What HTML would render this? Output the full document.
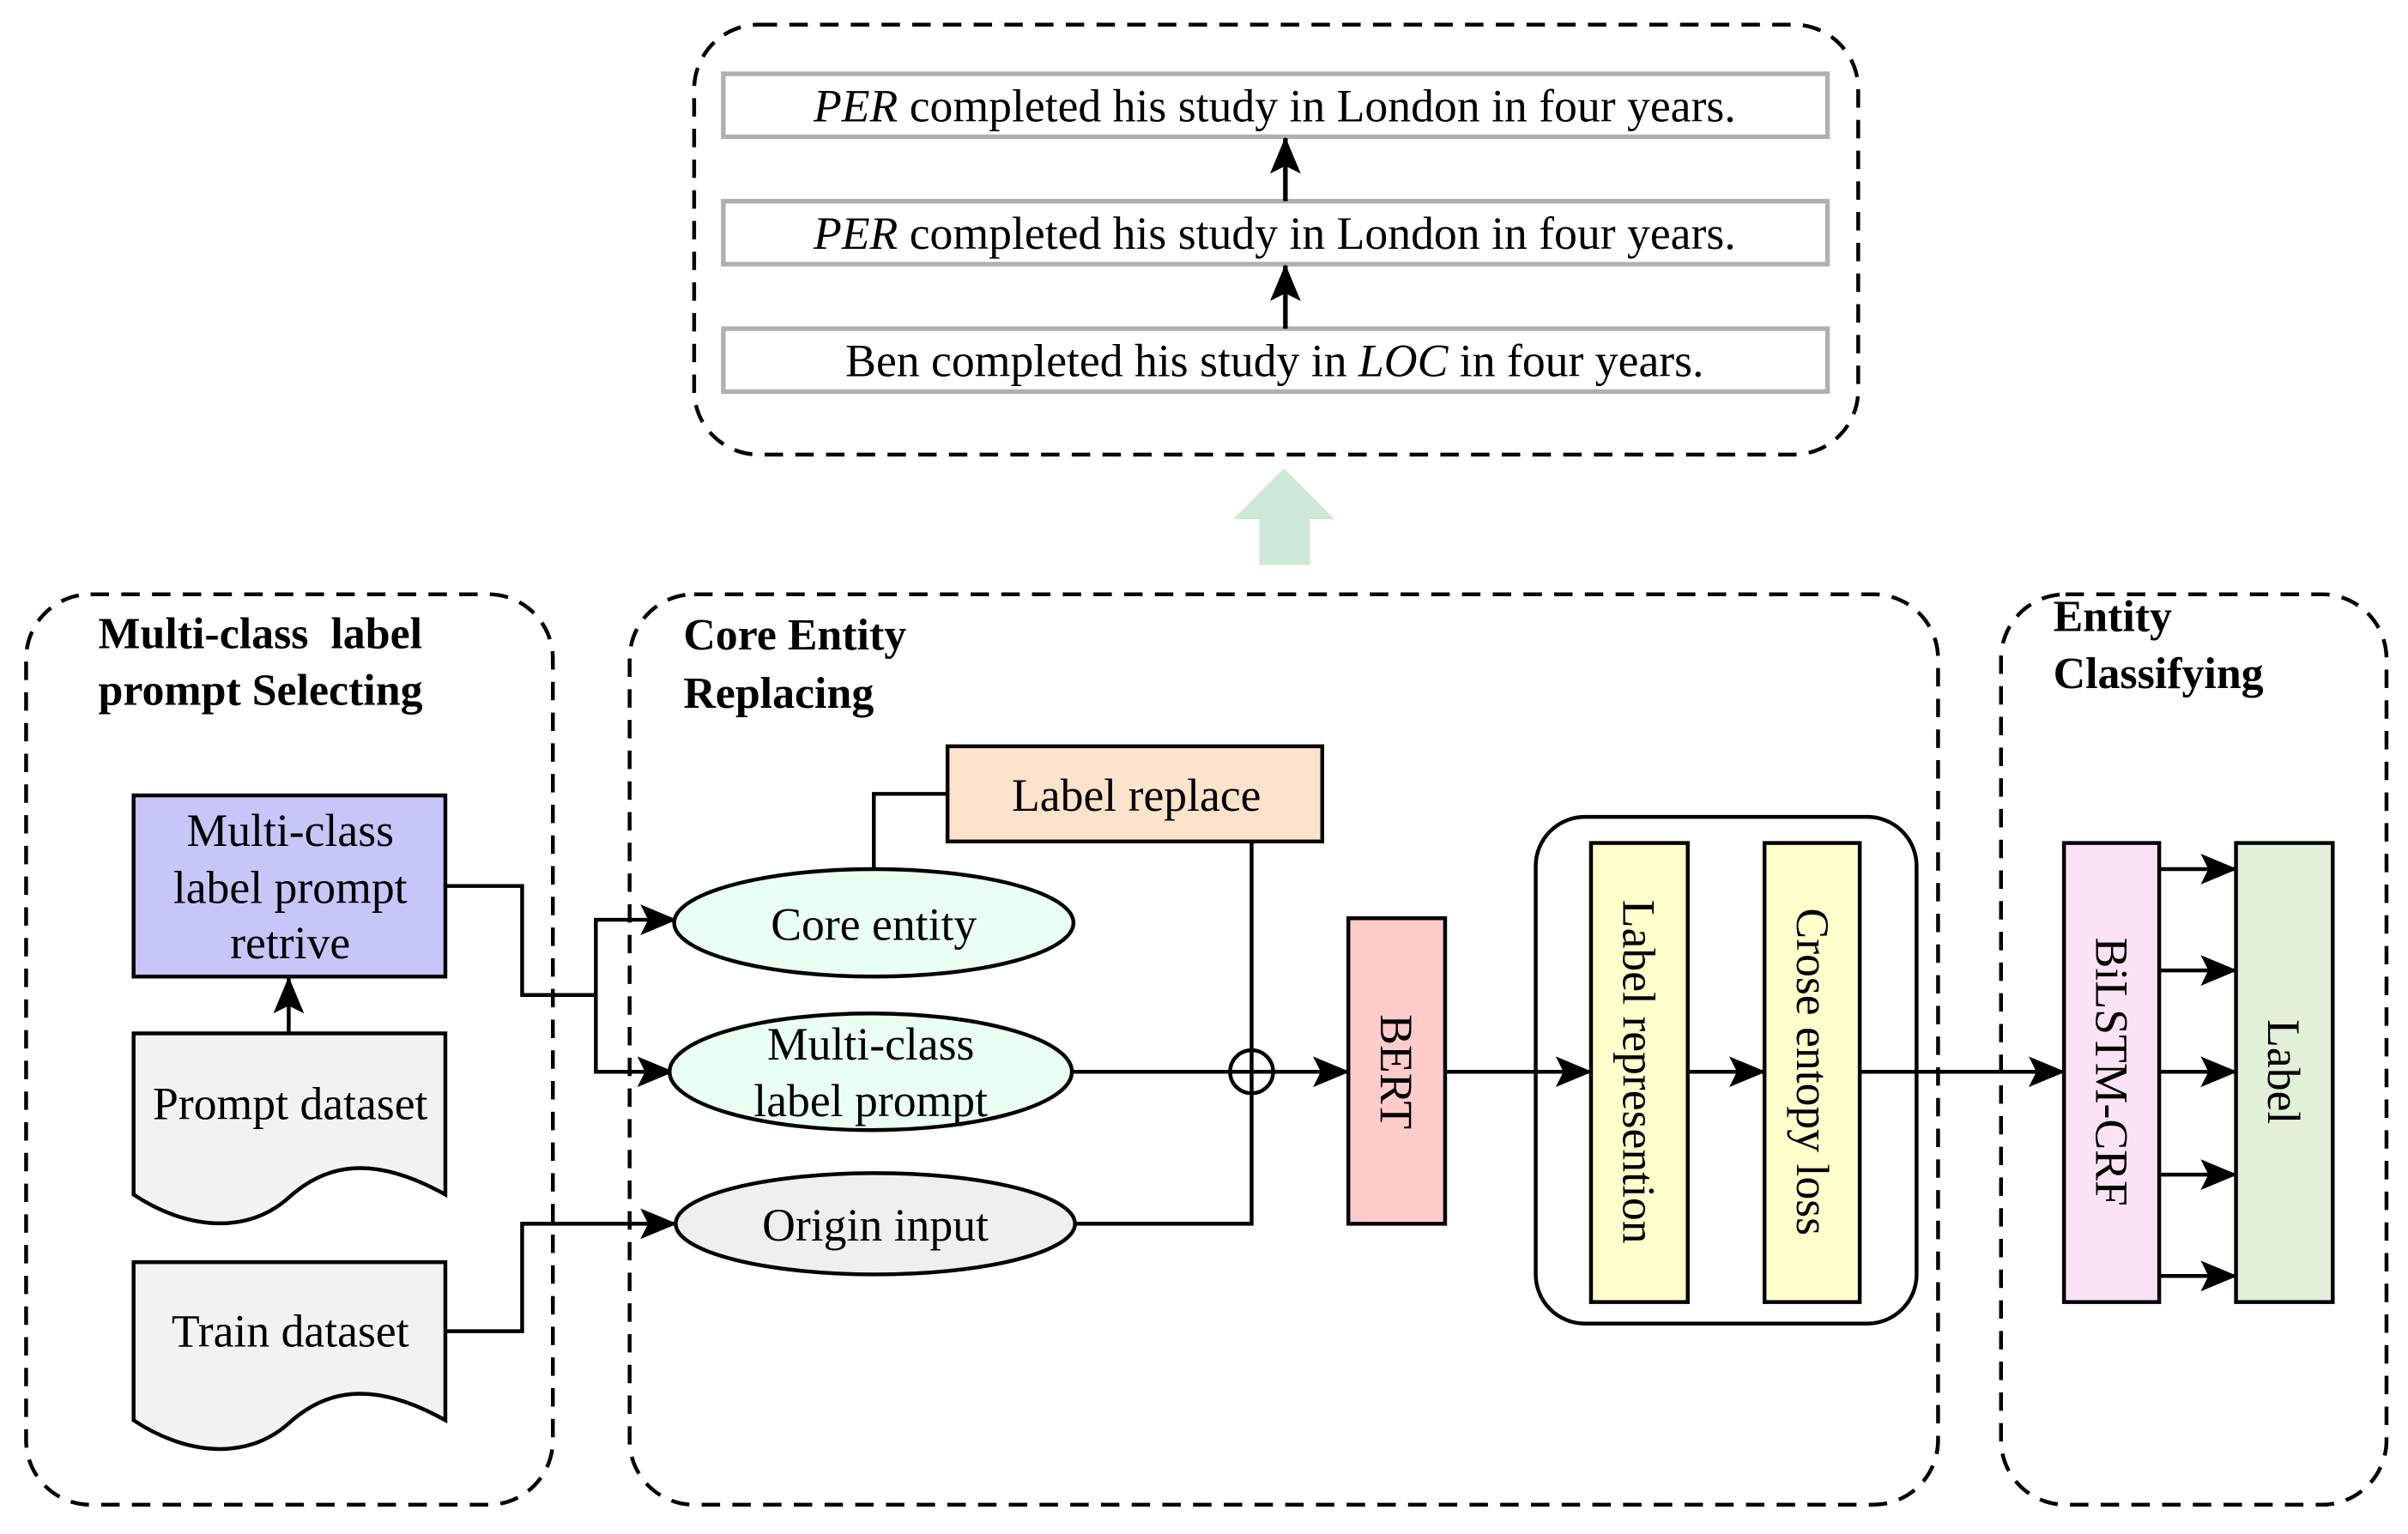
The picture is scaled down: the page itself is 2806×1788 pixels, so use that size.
<!DOCTYPE html>
<html><head><meta charset="utf-8"><style>html,body{margin:0;padding:0;background:#fff}svg{display:block}</style></head>
<body>
<svg width="2806" height="1788" viewBox="0 0 1568 999" xmlns="http://www.w3.org/2000/svg" font-family="'Liberation Serif', serif" font-size="30">
<defs>
<marker id="ahb" markerWidth="24" markerHeight="22" refX="23" refY="11" orient="auto" markerUnits="userSpaceOnUse" viewBox="0 0 24 22">
<path d="M0,1 L24,11 L0,21 L5,11 z" fill="#000"/></marker>
</defs>
<g fill="none" stroke="#000" stroke-width="2.5" stroke-dasharray="12,8">
<rect x="452" y="16" width="758" height="280" rx="42"/>
<rect x="17" y="387" width="343" height="593" rx="42"/>
<rect x="410" y="387" width="852" height="593" rx="42"/>
<rect x="1303" y="387" width="251" height="593" rx="42"/>
</g>
<g fill="#fff" stroke="#b0b0b0" stroke-width="3">
<rect x="471" y="48" width="719" height="41"/>
<rect x="471" y="131" width="719" height="41"/>
<rect x="471" y="214" width="719" height="41"/>
</g>
<g text-anchor="middle">
<text x="830" y="79"><tspan font-style="italic">PER</tspan> completed his study in London in four years.</text>
<text x="830" y="162"><tspan font-style="italic">PER</tspan> completed his study in London in four years.</text>
<text x="830" y="245">Ben completed his study in <tspan font-style="italic">LOC</tspan> in four years.</text>
</g>
<g stroke="#000" stroke-width="3" fill="none">
<line x1="837" y1="131" x2="837" y2="90" marker-end="url(#ahb)"/>
<line x1="837" y1="214" x2="837" y2="173" marker-end="url(#ahb)"/>
</g>
<path d="M820,368 L853,368 L853,338 L869,338 L836,305 L803,338 L820,338 z" fill="#cde8d8"/>
<g font-weight="bold" font-size="29">
<text x="64" y="422" xml:space="preserve">Multi-class  label</text>
<text x="64" y="459">prompt Selecting</text>
<text x="445" y="423">Core Entity</text>
<text x="445" y="461">Replacing</text>
<text x="1337" y="411">Entity</text>
<text x="1337" y="448">Classifying</text>
</g>
<rect x="87" y="518" width="203" height="118" fill="#c6c6f9" stroke="#000" stroke-width="2.5"/>
<g text-anchor="middle">
<text x="189" y="551">Multi-class</text>
<text x="189" y="588">label prompt</text>
<text x="189" y="624">retrive</text>
</g>
<path d="M87,673 L290,673 L290,778 C240,750 210,760 188,780 C160,805 120,800 87,778 z" fill="#f2f2f2" stroke="#000" stroke-width="2.5"/>
<text x="189" y="729" text-anchor="middle">Prompt dataset</text>
<path d="M87,822 L290,822 L290,925 C240,897 210,907 188,927 C160,952 120,947 87,925 z" fill="#f2f2f2" stroke="#000" stroke-width="2.5"/>
<text x="189" y="877" text-anchor="middle">Train dataset</text>
<g stroke="#000" stroke-width="2.5" fill="none">
<line x1="188" y1="673" x2="188" y2="637" marker-end="url(#ahb)"/>
<polyline points="290,577 340,577 340,648 388,648"/>
<polyline points="388,648 388,599 440,599" marker-end="url(#ahb)"/>
<polyline points="388,648 388,698 438,698" marker-end="url(#ahb)"/>
<polyline points="290,867 340,867 340,797 440,797" marker-end="url(#ahb)"/>
<polyline points="569,566 569,517 617,517"/>
<polyline points="815,548 815,797 700,797"/>
<line x1="698" y1="698" x2="878" y2="698" marker-end="url(#ahb)"/>
<circle cx="815" cy="698" r="14"/>
<line x1="941" y1="698" x2="1036" y2="698" marker-end="url(#ahb)"/>
<line x1="1099" y1="698" x2="1149" y2="698" marker-end="url(#ahb)"/>
<line x1="1211" y1="698" x2="1344" y2="698" marker-end="url(#ahb)"/>
<line x1="1406" y1="566" x2="1456" y2="566" marker-end="url(#ahb)"/>
<line x1="1406" y1="632" x2="1456" y2="632" marker-end="url(#ahb)"/>
<line x1="1406" y1="698" x2="1456" y2="698" marker-end="url(#ahb)"/>
<line x1="1406" y1="765" x2="1456" y2="765" marker-end="url(#ahb)"/>
<line x1="1406" y1="831" x2="1456" y2="831" marker-end="url(#ahb)"/>
<rect x="1000" y="532" width="248" height="330" rx="32"/>
</g>
<g stroke="#000" stroke-width="2.5">
<ellipse cx="569" cy="601" rx="130" ry="35" fill="#eafff4"/>
<ellipse cx="567" cy="698" rx="131" ry="38" fill="#eafff4"/>
<ellipse cx="570" cy="797" rx="130" ry="33" fill="#efefef"/>
<rect x="617" y="486" width="244" height="62" fill="#fde3cc"/>
<rect x="878" y="598" width="63" height="199" fill="#ffcccc"/>
<rect x="1036" y="549" width="63" height="299" fill="#ffffcc"/>
<rect x="1149" y="549" width="62" height="299" fill="#ffffcc"/>
<rect x="1344" y="549" width="62" height="299" fill="#fbe3f5"/>
<rect x="1456" y="549" width="63" height="299" fill="#e2efd9"/>
</g>
<g text-anchor="middle">
<text x="569" y="612">Core entity</text>
<text x="567" y="690">Multi-class</text>
<text x="567" y="727">label prompt</text>
<text x="570" y="808">Origin input</text>
<text x="740" y="528">Label replace</text>
<text transform="translate(899,698) rotate(90)">BERT</text>
<text transform="translate(1057,698) rotate(90)">Label represention</text>
<text transform="translate(1170,698) rotate(90)">Crose entopy loss</text>
<text transform="translate(1365,698) rotate(90)">BiLSTM-CRF</text>
<text transform="translate(1477,698) rotate(90)">Label</text>
</g>
</svg>
</body></html>
